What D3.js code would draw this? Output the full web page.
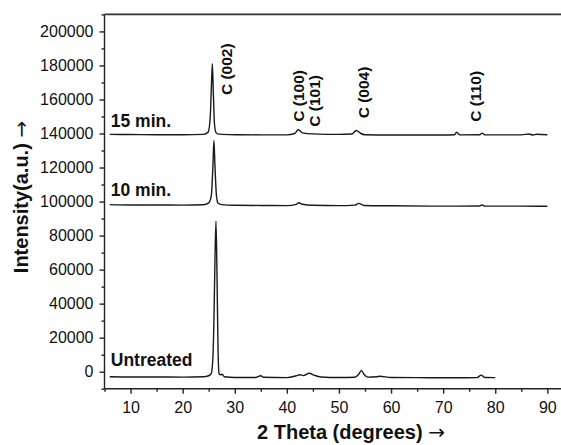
<!DOCTYPE html>
<html><head><meta charset="utf-8">
<script src="https://cdn.jsdelivr.net/npm/d3@7"></script>
<style>
html,body{margin:0;padding:0;background:#fff;}
svg{display:block;}
text{font-family:"Liberation Sans",Arial,sans-serif;fill:#111;}
</style></head>
<body>
<svg id="c" width="561" height="445"></svg>
<script>
// ---- data (2θ in degrees, intensity in a.u.) ----
const untreatedX = [6,10,15,20,24,25,25.5,25.8,26.0,26.2,26.4,26.6,26.8,27.0,27.2,27.6,28,30,34,35,35.5,40,41.8,42.5,43.2,44.3,45.2,46.5,50,53,53.8,54.3,54.8,55.5,57.3,57.8,60,65,70,76.5,77.3,78,80];
const untreatedY = [-3000,-3100,-3100,-3200,-3000,-2400,-1000,8000,30000,65000,88500,55000,12000,-1200,-1800,-1500,-3000,-3400,-3400,-2400,-3300,-3500,-2400,-1800,-2300,-900,-2000,-3100,-3400,-3300,-1500,800,-1500,-3200,-3000,-2700,-3400,-3500,-3600,-3500,-2000,-3400,-3500];

const min10X = [6,10,15,20,24,25,25.5,25.8,26.0,26.2,26.5,26.8,27.5,30,35,40,41.8,42.3,43,45,50,53,53.8,54.8,60,70,77,77.5,78,85,90];
const min10Y = [98200,98000,98000,97900,98100,99200,103500,120000,135900,121000,103000,99000,98200,97800,97700,97600,98300,99300,98400,97800,97600,97900,98900,97700,97500,97300,97400,98000,97300,97300,97200];

const min15X = [6,10,15,20,24,24.9,25.3,25.5,25.7,25.9,26.1,26.4,26.9,30,35,40,41.5,42.2,43,45,50,52.5,53.3,54.2,55,60,70,72.2,72.6,73.2,77,77.5,78,85,86.5,87.2,88,90];
const min15Y = [139500,139400,139300,139300,139500,140800,150000,166000,181000,163000,146000,140500,139600,139300,139200,139200,140000,142200,140400,139800,139500,139700,141800,140000,139300,139100,139100,139300,140800,139200,139300,140200,139200,139200,139700,139100,139600,139300];

const seriesNames = ["Untreated","10 min.","15 min."];
const seriesLabelX = [6.2,6.2,6.2];
const seriesLabelY = [3300,103300,143800];

const peakLabels = ["C (002)","C (100)","C (101)","C (004)","C (110)"];
const peakLabelX = [29.4,43.2,46.4,55.8,77.2];
const peakLabelY = [162600,146900,144000,148900,146900];

const xTicks = [10,20,30,40,50,60,70,80,90];
const xMinorTicks = [5,15,25,35,45,55,65,75,85,95];
const yTicks = [0,20000,40000,60000,80000,100000,120000,140000,160000,180000,200000];
const yMinorTicks = [-10000,10000,30000,50000,70000,90000,110000,130000,150000,170000,190000,210000];

const xTitle = "2 Theta (degrees)";
const yTitle = "Intensity(a.u.)";
const arrow = "\u2192";

// ---- drawing ----
const svg = d3.select("#c");
const L = 104.5, T = 14.4, B = 388.7;
const x = d3.scaleLinear().domain([5,95]).range([L, L + 90*5.21]);
const y = d3.scaleLinear().domain([-10000,210000]).range([B, T]);
const W = 561;

svg.append("defs").append("clipPath").attr("id","pc")
  .append("rect").attr("x",L).attr("y",T).attr("width",W-L).attr("height",B-T);

const line = d3.line().x(d=>x(d[0])).y(d=>y(d[1])).curve(d3.curveMonotoneX);
const series = [d3.zip(untreatedX,untreatedY), d3.zip(min10X,min10Y), d3.zip(min15X,min15Y)];
const g = svg.append("g").attr("clip-path","url(#pc)");
series.forEach(s=>{
  g.append("path").attr("d",line(s)).attr("fill","none")
   .attr("stroke","#1a1a1a").attr("stroke-width",1.4).attr("stroke-linejoin","round");
});

// axes
const axisColor = "#222";
const xAxis = svg.append("g").attr("transform",`translate(0,${B})`)
  .call(d3.axisBottom(x).tickValues(xTicks).tickSize(5).tickPadding(8).tickFormat(d3.format("d")));
const xMinor = svg.append("g").attr("transform",`translate(0,${B})`)
  .call(d3.axisBottom(x).tickValues(xMinorTicks).tickSize(3).tickFormat(""));
xMinor.select(".domain").remove();
const yAxis = svg.append("g").attr("transform",`translate(${L},0)`)
  .call(d3.axisLeft(y).tickValues(yTicks).tickSize(5).tickPadding(6).tickFormat(d3.format("d")));
const yMinor = svg.append("g").attr("transform",`translate(${L},0)`)
  .call(d3.axisLeft(y).tickValues(yMinorTicks).tickSize(3).tickFormat(""));
yMinor.select(".domain").remove();
[xAxis,yAxis,xMinor,yMinor].forEach(a=>{
  a.selectAll("path,line").attr("stroke",axisColor).attr("stroke-width",1.4);
  a.selectAll("text").style("font-size","16px").attr("fill","#111")
   .style("font-family","'Liberation Sans',Arial,sans-serif");
});
xAxis.select(".domain").attr("d",`M${L},0H${W}`);
yAxis.select(".domain").attr("d",`M0,${T}V${B}`);
// top border
svg.append("line").attr("x1",L).attr("x2",W).attr("y1",T).attr("y2",T)
  .attr("stroke","#333").attr("stroke-width",1.6);

// series labels
svg.selectAll(".sl").data(seriesNames).enter().append("text")
  .attr("x",(d,i)=>x(seriesLabelX[i])).attr("y",(d,i)=>y(seriesLabelY[i]))
  .style("font-size","17.5px").style("font-weight","bold").text(d=>d);

// peak labels
svg.selectAll(".pl").data(peakLabels).enter().append("text")
  .attr("transform",(d,i)=>`translate(${x(peakLabelX[i])},${y(peakLabelY[i])}) rotate(-90)`)
  .style("font-size","15.5px").style("font-weight","bold").text(d=>d);

// axis titles
const xt = svg.append("text").attr("x",351).attr("y",439).attr("text-anchor","middle")
  .style("font-size","20px").style("font-weight","bold");
xt.append("tspan").text(xTitle + " ");
xt.append("tspan").style("font-family","'DejaVu Sans',sans-serif").style("font-weight","normal").text(arrow);
const yt = svg.append("text").attr("transform","translate(28,197) rotate(-90)").attr("text-anchor","middle")
  .style("font-size","20px").style("font-weight","bold");
yt.append("tspan").text(yTitle + " ");
yt.append("tspan").style("font-family","'DejaVu Sans',sans-serif").style("font-weight","normal").text(arrow);
</script>
</body></html>
